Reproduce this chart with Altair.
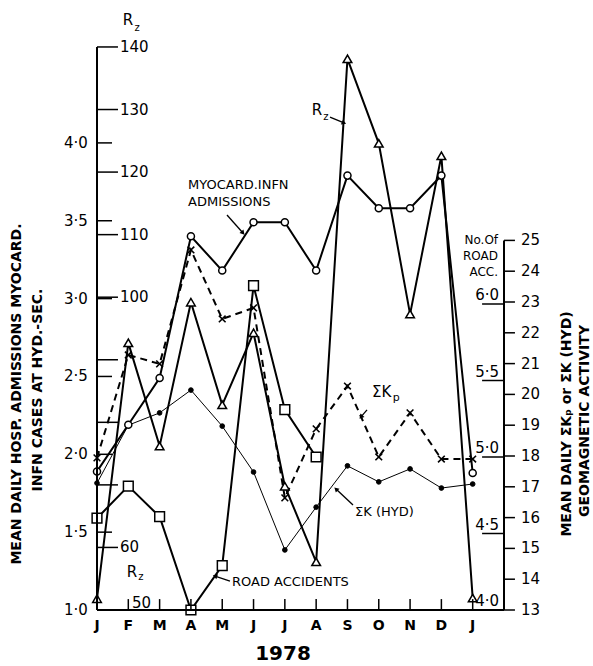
import math
import altair as alt
import pandas as pd

# ---------------- data ----------------
months = ["J", "F", "M", "A", "M", "J", "J", "A", "S", "O", "N", "D", "J"]
month_pos = list(range(13))

myocard = [1.89, 2.19, 2.49, 3.40, 3.18, 3.49, 3.49, 3.18, 3.79, 3.58, 3.58, 3.79, 1.88]
rz = [51.8, 92.7, 76.2, 99.2, 82.8, 94.3, 69.8, 57.7, 138.1, 124.6, 97.3, 122.6, 51.9]
sum_k_hyd = [17.12, 19.0, 19.4, 20.14, 18.97, 17.48, 14.95, 16.34, 17.68, 17.16, 17.58, 16.96, 17.09]
sum_kp = [17.94, 21.28, 20.99, 24.69, 22.45, 22.81, 16.64, 18.88, 20.27, 17.97, 19.40, 17.90, 17.90]
road_acc = [4.60, 4.81, 4.61, 4.00, 4.29, 6.12, 5.31, 5.00]

adm_ticks = [1.5, 2.0, 2.5, 3.0, 3.5, 4.0]
adm_labels = ["1·0", "1·5", "2·0", "2·5", "3·0", "3·5", "4·0"]
adm_label_vals = [1.0, 1.5, 2.0, 2.5, 3.0, 3.5, 4.0]
rz_ticks = [60, 70, 80, 90, 100, 110, 120, 130, 140]
rz_labels = [60, 100, 110, 120, 130, 140]
k_ticks = list(range(13, 26))
acc_ticks = [4.0, 4.5, 5.0, 5.5, 6.0]
acc_labels = ["4·0", "4·5", "5·0", "5·5", "6·0"]

# ---------------- geometry of the shared plot frame ----------------
W, H = 407, 563
PX_ADM = 155.7   # px per admission unit (base scale)
PX_RZ = 6.256    # px per sunspot number
PX_K = 30.8      # px per sum K unit
PX_ACC = 153.0   # px per road accident unit


def from_rz(r):
    return 1 + (r - 50) * PX_RZ / PX_ADM


def from_k(k):
    return 1 + (k - 13) * PX_K / PX_ADM


def from_acc(a):
    return 1 + (a - 4) * PX_ACC / PX_ADM


Y_TOP = 1 + H / PX_ADM
XS = alt.Scale(domain=[0, 13], nice=False, zero=False)
YS = alt.Scale(domain=[1.0, Y_TOP], nice=False, zero=False)
FONT = "DejaVu Sans"


def X(f="m"):
    return alt.X(f, type="quantitative", scale=XS, axis=None)


def Y(f="v"):
    return alt.Y(f, type="quantitative", scale=YS, axis=None)


def series(vals, conv):
    return pd.DataFrame({"m": month_pos[: len(vals)], "v": [conv(x) for x in vals]})


d_myo = series(myocard, lambda a: a)
d_rz = series(rz, from_rz)
d_khyd = series(sum_k_hyd, from_k)
d_kp = series(sum_kp, from_k)
d_road = series(road_acc, from_acc)

layers = []


def line(df, width=2, dash=None):
    kw = dict(color="black", strokeWidth=width)
    if dash:
        kw["strokeDash"] = dash
    return alt.Chart(df).mark_line(**kw).encode(x=X(), y=Y())


layers += [
    line(d_khyd, 1),
    line(d_kp, 2, [7, 5]),
    line(d_road, 2),
    line(d_rz, 2),
    line(d_myo, 2),
]


def pts(df, shape, size, fill, sw=1.5, filled=True):
    kw = dict(shape=shape, size=size, stroke="black", strokeWidth=sw, opacity=1)
    if filled:
        kw.update(filled=True, fill=fill)
    else:
        kw.update(filled=False)
    return alt.Chart(df).mark_point(**kw).encode(x=X(), y=Y())


layers += [
    pts(d_khyd, "circle", 22, "black", 1),
    pts(d_kp, "M-1,-1L1,1M-1,1L1,-1", 45, None, 1.6, filled=False),
    pts(d_road, "square", 95, "white"),
    pts(d_rz, "triangle-up", 75, "white"),
    pts(d_myo, "circle", 50, "white"),
]

# ---------------- axes drawn as rules ----------------
axis_lines = pd.DataFrame({
    "m": [0, 13, 0], "m2": [0, 13, 13],
    "v": [1.0, 1.0, 1.0], "v2": [Y_TOP, from_k(25), 1.0],
})
ticks = []
for r in rz_ticks:
    ticks.append((0, 0.67, from_rz(r), from_rz(r)))
for a in adm_ticks:
    ticks.append((0, 0.48, a, a))
for k in k_ticks:
    ticks.append((13, 13.35, from_k(k), from_k(k)))
for a in acc_ticks:
    ticks.append((12.30, 13, from_acc(a), from_acc(a)))
for i in month_pos[1:]:
    ticks.append((i, i, 1.0, 1.07))
tick_df = pd.DataFrame(ticks, columns=["m", "m2", "v", "v2"])

layers.append(alt.Chart(axis_lines).mark_rule(color="black", strokeWidth=2).encode(
    x=X(), x2="m2", y=Y(), y2="v2"))
layers.append(alt.Chart(tick_df).mark_rule(color="black", strokeWidth=1.5).encode(
    x=X(), x2="m2", y=Y(), y2="v2"))


def text(df, align="left", baseline="middle", size=15, weight="normal", angle=0, dy=0):
    kw = dict(align=align, baseline=baseline, fontSize=size, font=FONT,
              fontWeight=weight, color="black")
    if angle:
        kw["angle"] = angle
    if dy:
        kw["dy"] = dy
    return alt.Chart(df).mark_text(**kw).encode(x=X(), y=Y(), text="t:N")


rz_lab = pd.DataFrame({"m": 0.735, "v": [from_rz(r) for r in rz_labels], "t": [str(r) for r in rz_labels]})
adm_lab = pd.DataFrame({"m": -0.29, "v": adm_label_vals, "t": adm_labels})
k_lab = pd.DataFrame({"m": 13.54, "v": [from_k(k) for k in k_ticks], "t": [str(k) for k in k_ticks]})
acc_lab = pd.DataFrame({"m": 12.84, "v": [from_acc(a) for a in acc_ticks], "t": acc_labels})
mon_lab = pd.DataFrame({"m": month_pos, "v": 0.897, "t": months})

layers += [
    text(rz_lab),
    text(adm_lab, align="right"),
    text(k_lab),
    text(acc_lab, align="right", baseline="bottom", dy=-1),
    text(mon_lab, align="center", size=14, weight="bold"),
]

# ---------------- annotations ----------------
ann_left = pd.DataFrame({
    "m": [2.907, 2.907, 8.241, 4.312],
    "v": [3.730, 3.620, 1.629, 1.180],
    "t": ["MYOCARD.INFN", "ADMISSIONS", "ΣK (HYD)", "ROAD  ACCIDENTS"],
})
layers.append(text(ann_left, size=13))
layers.append(text(pd.DataFrame({"m": [1.12], "v": [1.045], "t": ["50"]}), size=15))
layers.append(text(pd.DataFrame({"m": [8.784], "v": [2.400], "t": ["ΣK"]}), size=15))
layers.append(text(pd.DataFrame({"m": [9.45], "v": [2.362], "t": ["p"]}), size=11))

r_big = pd.DataFrame({"m": [0.99, 7.027, 1.118], "v": [4.789, 4.211, 1.244], "t": ["R", "R", "R"]})
r_sub = pd.DataFrame({"m": [1.278, 7.314, 1.405], "v": [4.738, 4.166, 1.212], "t": ["z", "z", "z"]})
layers.append(text(r_big, align="center", size=15))
layers.append(text(r_sub, align="center", size=10))

acc_title = pd.DataFrame({"m": 12.81, "v": [3.376, 3.274, 3.171], "t": ["No.Of", "ROAD", "ACC."]})
layers.append(text(acc_title, align="right", size=12))

year = pd.DataFrame({"m": [5.94], "v": [0.715], "t": ["1978"]})
layers.append(text(year, align="center", size=20, weight="bold"))

left_titles = pd.DataFrame({"m": [-2.555, -1.884], "v": [2.387, 2.413],
                            "t": ["MEAN DAILY HOSP. ADMISSIONS MYOCARD.", "INFN  CASES  AT  HYD.-SEC."]})
right_titles = pd.DataFrame({"m": [15.012, 15.587], "v": [2.195, 2.214],
                             "t": ["MEAN DAILY ΣKₚ or ΣK (HYD)", "GEOMAGNETIC  ACTIVITY"]})
layers.append(text(left_titles, align="center", size=14, weight="bold", angle=270))
layers.append(text(right_titles, align="center", size=14, weight="bold", angle=270))

# arrows
arrows = [
    (4.152, 3.537, 4.663, 3.421),
    (7.442, 4.166, 7.889, 4.128),
    (8.624, 2.285, 8.432, 2.240),
    (8.177, 1.674, 7.634, 1.777),
    (4.248, 1.186, 3.769, 1.218),
]
arr_df = pd.DataFrame(arrows, columns=["m", "v", "m2", "v2"])
heads = []
for m1, v1, m2, v2 in arrows:
    dxp = (m2 - m1) * W / 13
    dyp = -(v2 - v1) * PX_ADM
    ang = math.degrees(math.atan2(dxp, -dyp)) % 360
    heads.append((m2, v2, ang))
head_df = pd.DataFrame(heads, columns=["m", "v", "ang"])
layers.append(alt.Chart(arr_df).mark_rule(color="black", strokeWidth=1.3).encode(
    x=X(), x2="m2", y=Y(), y2="v2"))
layers.append(alt.Chart(head_df).mark_point(shape="triangle-up", filled=True, fill="black",
                                            size=28, opacity=1, strokeWidth=0).encode(
    x=X(), y=Y(), angle=alt.Angle("ang:Q", scale=None)))

chart = alt.layer(*layers).properties(
    width=W, height=H,
    padding={"left": 97, "top": 47, "right": 89, "bottom": 56},
    autosize=alt.AutoSizeParams(type="none"),
    background="white",
).configure_view(stroke=None)

chart.save("out.html", embed_options={"renderer": "svg", "actions": False})
